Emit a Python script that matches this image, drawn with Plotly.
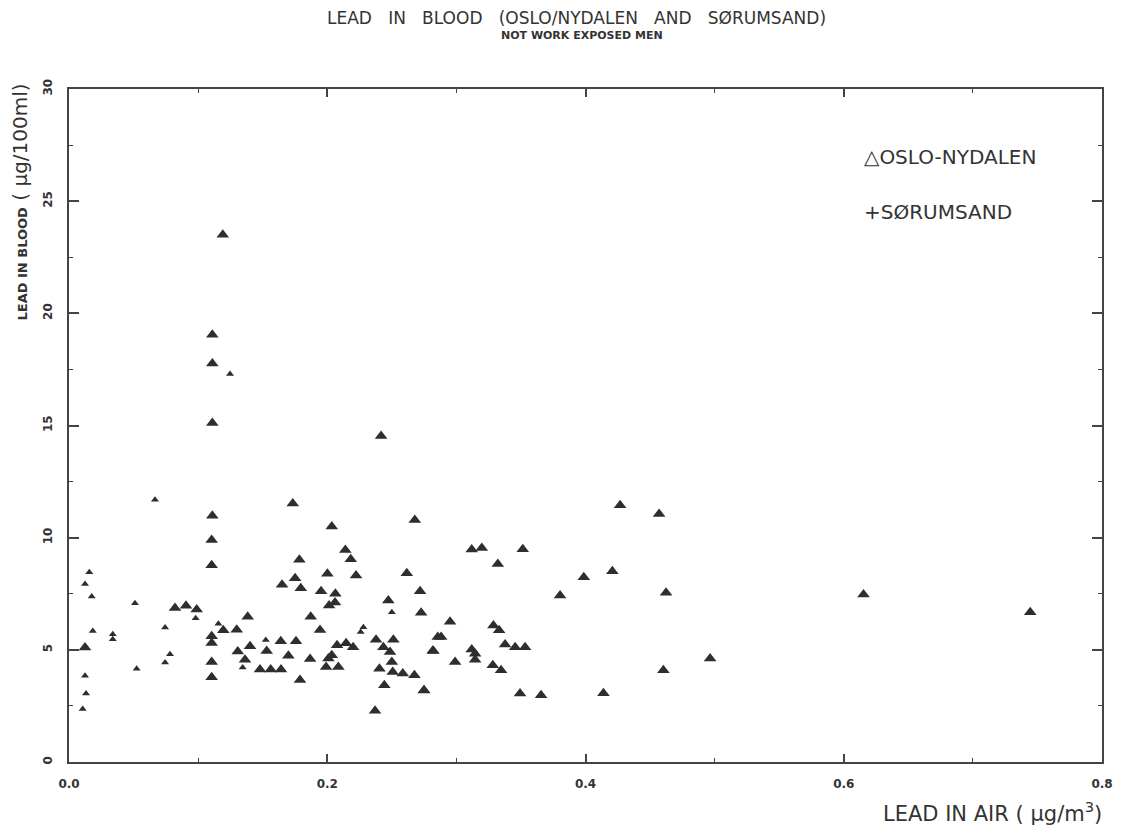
import plotly.graph_objects as go

# Oslo-Nydalen (triangles): lead in air (ug/m3), lead in blood (ug/100ml)
oslo_air = [0.1105, 0.1105, 0.0821, 0.0906, 0.0989, 0.1384, 0.1195, 0.1299, 0.1105, 0.1105,
            0.0124, 0.1105, 0.1105, 0.1307, 0.1402, 0.1363,
            0.2140, 0.2182, 0.1784, 0.2001, 0.2223, 0.1751, 0.1650, 0.1795, 0.1952, 0.2063,
            0.2014, 0.2060, 0.1872, 0.1944, 0.1640, 0.1758, 0.1531, 0.1699, 0.1867, 0.1479,
            0.1562, 0.1642, 0.1789, 0.2076, 0.2146, 0.2200, 0.2035, 0.2009, 0.1991, 0.2086,
            0.2473, 0.2616, 0.2719, 0.2727, 0.2856, 0.2817, 0.2378, 0.2512, 0.2435, 0.2486,
            0.2500, 0.2404, 0.2507, 0.2585, 0.2675, 0.2442, 0.2748, 0.2370,
            0.3119, 0.3197, 0.3514, 0.3321, 0.3987, 0.4208, 0.3803, 0.2951, 0.3287, 0.3331,
            0.2882, 0.3377, 0.3455, 0.3532, 0.2822, 0.3119, 0.3145, 0.2990, 0.3145, 0.3282,
            0.3346, 0.2750, 0.3493, 0.3656, 0.4139,
            0.1191, 0.1110, 0.1110, 0.1110, 0.1733, 0.1110, 0.2035, 0.2417, 0.2678, 0.4268,
            0.4570, 0.4624, 0.4965, 0.4603, 0.6153, 0.7444]
oslo_blood = [9.90, 8.77, 6.86, 6.96, 6.80, 6.48, 5.87, 5.90, 5.60, 5.30,
              5.10, 4.46, 3.78, 4.93, 5.16, 4.56,
              9.45, 9.04, 9.02, 8.39, 8.31, 8.19, 7.90, 7.75, 7.61, 7.50,
              6.98, 7.11, 6.48, 5.88, 5.38, 5.38, 4.95, 4.74, 4.59, 4.12,
              4.12, 4.12, 3.66, 5.20, 5.29, 5.11, 4.76, 4.61, 4.24, 4.24,
              7.20, 8.41, 7.61, 6.65, 5.57, 4.96, 5.45, 5.45, 5.12, 4.90,
              4.46, 4.16, 4.01, 3.94, 3.87, 3.42, 3.19, 2.28,
              9.47, 9.54, 9.48, 8.83, 8.24, 8.50, 7.42, 6.25, 6.09, 5.87,
              5.57, 5.24, 5.12, 5.12, 4.95, 5.01, 4.83, 4.46, 4.56, 4.31,
              4.09, 3.20, 3.05, 2.98, 3.07,
              23.50, 19.05, 17.76, 15.11, 11.52, 10.98, 10.50, 14.53, 10.79, 11.45,
              11.05, 7.54, 4.61, 4.09, 7.47, 6.68]

# Sorumsand (+)
sorum_air = [0.0157, 0.0124, 0.0176, 0.0511, 0.0184, 0.0339, 0.0339, 0.0524, 0.0124, 0.0132,
             0.0106, 0.0744, 0.0782, 0.0744, 0.0981, 0.1157, 0.1345, 0.1524, 0.2280, 0.2259,
             0.2500, 0.0666, 0.1247]
sorum_blood = [8.46, 7.94, 7.38, 7.08, 5.84, 5.69, 5.47, 4.16, 3.84, 3.05,
               2.36, 6.00, 4.80, 4.43, 6.41, 6.16, 4.21, 5.44, 6.01, 5.79,
               6.68, 11.69, 17.30]

x_ticks = [0.0, 0.2, 0.4, 0.6, 0.8]
x_tick_labels = ["0.0", "0.2", "0.4", "0.6", "0.8"]
y_ticks = [0, 5, 10, 15, 20, 25, 30]
y_tick_labels = ["0", "5", "10", "15", "20", "25", "30"]

INK = "#2e2e2e"

fig = go.Figure()
fig.add_trace(go.Scatter(x=oslo_air, y=oslo_blood, mode="markers", name="OSLO-NYDALEN",
                         marker=dict(symbol="triangle-up", size=11, color=INK, line=dict(width=0))))
fig.add_trace(go.Scatter(x=sorum_air, y=sorum_blood, mode="markers", name="SØRUMSAND",
                         marker=dict(symbol="triangle-up", size=7, color=INK, line=dict(width=0))))

axis_common = dict(showline=True, linecolor="#444", linewidth=1.5, mirror="ticks",
                   ticks="inside", tickcolor="#444", tickwidth=1.5,
                   showgrid=False, zeroline=False)

tickfont = dict(family="DejaVu Sans", size=12, color="#333", weight="bold")

fig.update_xaxes(range=[0, 0.8], tickvals=x_ticks, ticktext=x_tick_labels, ticklen=8,
                 minor=dict(dtick=0.1, ticks="inside", ticklen=4, tickcolor="#444", tickwidth=1.2),
                 ticklabelstandoff=10, tickfont=tickfont, **axis_common)
fig.update_yaxes(range=[0, 30], tickvals=y_ticks, ticktext=y_tick_labels, ticklen=10,
                 minor=dict(dtick=2.5, ticks="inside", ticklen=4, tickcolor="#444", tickwidth=1.2),
                 tickangle=-90, ticklabelstandoff=10, tickfont=tickfont, **axis_common)

NB = "\u00a0"
G = NB * 3
title = f"LEAD{G}IN{G}BLOOD{G}(OSLO/NYDALEN{G}AND{G}SØRUMSAND)"
annotations = [
    dict(text=title, x=0.491, y=1.1055, xref="paper", yref="paper", showarrow=False,
         xanchor="center", yanchor="middle",
         font=dict(family="DejaVu Sans", size=17, color="#333")),
    dict(text="NOT WORK EXPOSED MEN", x=0.497, y=1.0802, xref="paper", yref="paper",
         showarrow=False, xanchor="center", yanchor="middle",
         font=dict(family="DejaVu Sans", size=11, color="#333", weight="bold")),
    dict(text="LEAD IN AIR ( µg/m<sup>3</sup>)", x=1.002, y=-0.074, xref="paper", yref="paper",
         showarrow=False, xanchor="right", yanchor="middle",
         font=dict(family="DejaVu Sans", size=21, color="#333")),
    dict(text="<span style='font-size:13px;font-weight:bold'>LEAD IN BLOOD</span> ( µg/100ml)",
         x=-0.047, y=0.832, xref="paper", yref="paper", showarrow=False, textangle=-90,
         xanchor="center", yanchor="middle",
         font=dict(family="DejaVu Sans", size=20, color="#333")),
    dict(text="△OSLO-NYDALEN", x=0.614, y=26.95, xref="x", yref="y", showarrow=False,
         xanchor="left", yanchor="middle",
         font=dict(family="DejaVu Sans", size=20, color="#333")),
    dict(text="+SØRUMSAND", x=0.614, y=24.5, xref="x", yref="y", showarrow=False,
         xanchor="left", yanchor="middle",
         font=dict(family="DejaVu Sans", size=20, color="#333")),
]

fig.update_layout(width=1119, height=827, showlegend=False,
                  margin=dict(l=61, r=25, t=81, b=73),
                  paper_bgcolor="white", plot_bgcolor="white",
                  annotations=annotations)

fig.write_html("out.html")
